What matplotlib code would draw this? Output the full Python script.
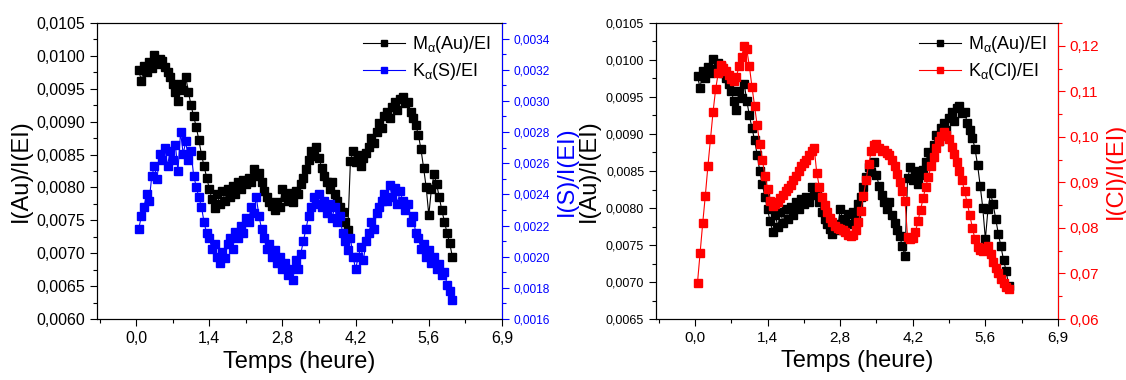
import numpy as np
import matplotlib
matplotlib.use("Agg")
import matplotlib.pyplot as plt
import matplotlib.ticker as ticker

plt.rcParams['font.family'] = ['Liberation Sans', 'DejaVu Sans']
plt.rcParams['mathtext.fontset'] = 'custom'
plt.rcParams['mathtext.rm'] = 'Liberation Sans'
plt.rcParams['mathtext.it'] = 'Liberation Sans'

# temps (heure)
temps = [0.05, 0.10, 0.15, 0.20, 0.25, 0.30, 0.35, 0.40, 0.45, 0.50,
         0.55, 0.60, 0.65, 0.70, 0.75, 0.80, 0.85, 0.90, 0.95, 1.00,
         1.05, 1.10, 1.15, 1.20, 1.25, 1.30, 1.35, 1.40, 1.45, 1.50,
         1.55, 1.60, 1.65, 1.70, 1.75, 1.80, 1.85, 1.90, 1.95, 2.00,
         2.05, 2.10, 2.15, 2.20, 2.25, 2.30, 2.35, 2.40, 2.45, 2.50,
         2.55, 2.60, 2.65, 2.70, 2.75, 2.80, 2.85, 2.90, 2.95, 3.00,
         3.05, 3.10, 3.15, 3.20, 3.25, 3.30, 3.35, 3.40, 3.45, 3.50,
         3.55, 3.60, 3.65, 3.70, 3.75, 3.80, 3.85, 3.90, 3.95, 4.00,
         4.05, 4.10, 4.15, 4.20, 4.25, 4.30, 4.35, 4.40, 4.45, 4.50,
         4.55, 4.60, 4.65, 4.70, 4.75, 4.80, 4.85, 4.90, 4.95, 5.00,
         5.05, 5.10, 5.15, 5.20, 5.25, 5.30, 5.35, 5.40, 5.45, 5.50,
         5.55, 5.60, 5.65, 5.70, 5.75, 5.80, 5.85, 5.90, 5.95, 6.00,
         6.05]

# M_alpha(Au)/EI
au = [0.00978, 0.00962, 0.00985, 0.00975, 0.00990, 0.00982, 0.01002, 0.00988, 0.00996, 0.00992,
      0.00983, 0.00975, 0.00968, 0.00958, 0.00945, 0.00932, 0.00958, 0.00948, 0.00968, 0.00945,
      0.00925, 0.00908, 0.00892, 0.00872, 0.00850, 0.00832, 0.00815, 0.00798, 0.00782, 0.00768,
      0.00790, 0.00775, 0.00795, 0.00780, 0.00798, 0.00785, 0.00802, 0.00790, 0.00808, 0.00798,
      0.00812, 0.00805, 0.00815, 0.00808, 0.00828, 0.00818, 0.00822, 0.00808, 0.00795, 0.00785,
      0.00778, 0.00772, 0.00765, 0.00778, 0.00770, 0.00798, 0.00785, 0.00780, 0.00792, 0.00778,
      0.00795, 0.00790, 0.00805, 0.00815, 0.00828, 0.00842, 0.00855, 0.00848, 0.00862, 0.00845,
      0.00830, 0.00818, 0.00808, 0.00798, 0.00808, 0.00790, 0.00780, 0.00770, 0.00762, 0.00748,
      0.00735, 0.00840, 0.00855, 0.00838, 0.00850, 0.00832, 0.00845, 0.00852, 0.00862, 0.00875,
      0.00868, 0.00885, 0.00898, 0.00890, 0.00908, 0.00915, 0.00905, 0.00922, 0.00930, 0.00918,
      0.00935, 0.00938, 0.00928, 0.00930, 0.00915, 0.00905, 0.00895, 0.00880, 0.00858, 0.00830,
      0.00800, 0.00758, 0.00798, 0.00820, 0.00805, 0.00785, 0.00765, 0.00748, 0.00730, 0.00715,
      0.00695]

# K_alpha(S)/EI
s = [0.00218, 0.00226, 0.00232, 0.00240, 0.00236, 0.00252, 0.00258, 0.00250, 0.00266, 0.00262,
     0.00270, 0.00258, 0.00268, 0.00262, 0.00272, 0.00255, 0.00280, 0.00266, 0.00274, 0.00262,
     0.00268, 0.00252, 0.00245, 0.00238, 0.00232, 0.00222, 0.00215, 0.00212, 0.00205, 0.00208,
     0.00200, 0.00196, 0.00203, 0.00199, 0.00208, 0.00212, 0.00205, 0.00216, 0.00212, 0.00220,
     0.00215, 0.00225, 0.00222, 0.00232, 0.00228, 0.00238, 0.00226, 0.00218, 0.00212, 0.00205,
     0.00208, 0.00200, 0.00204, 0.00196, 0.00200, 0.00192, 0.00196, 0.00188, 0.00192, 0.00185,
     0.00198, 0.00192, 0.00202, 0.00210, 0.00218, 0.00226, 0.00232, 0.00238, 0.00234, 0.00240,
     0.00232, 0.00236, 0.00228, 0.00234, 0.00225, 0.00232, 0.00222, 0.00226, 0.00215, 0.00210,
     0.00204, 0.00212, 0.00200, 0.00192, 0.00200, 0.00206, 0.00198, 0.00210, 0.00215, 0.00222,
     0.00218, 0.00228, 0.00232, 0.00236, 0.00240, 0.00236, 0.00246, 0.00238, 0.00244, 0.00234,
     0.00242, 0.00236, 0.00230, 0.00234, 0.00222, 0.00226, 0.00215, 0.00212, 0.00205, 0.00208,
     0.00200, 0.00204, 0.00196, 0.00200, 0.00192, 0.00195, 0.00188, 0.00190, 0.00182, 0.00178,
     0.00172]

# K_alpha(Cl)/EI
cl = [0.0680, 0.0745, 0.0810, 0.0870, 0.0935, 0.0995, 0.1055, 0.1105, 0.1140, 0.1158,
      0.1152, 0.1145, 0.1135, 0.1128, 0.1122, 0.1132, 0.1155, 0.1175, 0.1200, 0.1192,
      0.1155, 0.1110, 0.1068, 0.1025, 0.0985, 0.0950, 0.0915, 0.0885, 0.0860, 0.0848,
      0.0852, 0.0858, 0.0865, 0.0872, 0.0880, 0.0888, 0.0895, 0.0905, 0.0915, 0.0925,
      0.0935, 0.0942, 0.0950, 0.0960, 0.0968, 0.0975, 0.0920, 0.0890, 0.0868, 0.0850,
      0.0835, 0.0822, 0.0812, 0.0805, 0.0800, 0.0798, 0.0795, 0.0790, 0.0785, 0.0782,
      0.0785, 0.0795, 0.0812, 0.0838, 0.0870, 0.0905, 0.0940, 0.0968, 0.0982, 0.0985,
      0.0975, 0.0968, 0.0972, 0.0965, 0.0960, 0.0950, 0.0935, 0.0918, 0.0900, 0.0880,
      0.0860, 0.0780, 0.0775, 0.0778, 0.0790, 0.0815, 0.0840, 0.0865, 0.0890, 0.0912,
      0.0935, 0.0955, 0.0975, 0.0990, 0.1002, 0.1010, 0.1005, 0.0995, 0.0978, 0.0962,
      0.0945, 0.0925, 0.0905, 0.0880, 0.0855, 0.0828, 0.0800, 0.0775, 0.0758, 0.0752,
      0.0750, 0.0755, 0.0760, 0.0742, 0.0725, 0.0712, 0.0700, 0.0688, 0.0678, 0.0670,
      0.0665]

xticks = [0.0, 1.4, 2.8, 4.2, 5.6, 7.0]
xticklabels = ['0,0', '1,4', '2,8', '4,2', '5,6', '6,9']


def comma_fmt(nd):
    return ticker.FuncFormatter(lambda v, pos: ('%.*f' % (nd, v)).replace('.', ','))


def style_axis(ax, color, size):
    ax.tick_params(which='major', direction='out', length=5, width=0.8,
                   colors=color, labelsize=size)
    ax.tick_params(which='minor', direction='out', length=3, width=0.8, colors=color)


fig = plt.figure(figsize=(11.26, 3.80), dpi=100)
ax1 = fig.add_axes([0.0861, 0.1605, 0.3597, 0.779])
ax3 = fig.add_axes([0.5826, 0.1605, 0.357, 0.779])

panels = [
    (ax1, s, 'blue', r'K$_{\alpha}$(S)/EI', 'I(S)/I(EI)', (0.0060, 0.0105), (0.0016, 0.0035),
     0.0002, 4, 11.5, 8.6, 11.5, -0.16, 1.133, 5.5),
    (ax3, cl, 'red', r'K$_{\alpha}$(Cl)/EI', 'I(Cl)/I(EI)', (0.0065, 0.0105), (0.06, 0.125),
     0.01, 2, 9, 11, 11, -0.139, 1.117, 6.2),
]

for ax, y2, col, lab2, ylab2, ylim1, ylim2, step2, nd2, lsz, rsz, xsz, lx, rx, ms2 in panels:
    l1, = ax.plot(temps, au, '-s', color='black', lw=0.8, ms=5.5, label=r'M$_{\alpha}$(Au)/EI')
    ax.set_xlim(-0.75, 7.0)
    ax.set_ylim(*ylim1)
    ax.set_xticks(xticks)
    ax.set_xticklabels(xticklabels)
    ax.xaxis.set_minor_locator(ticker.AutoMinorLocator(2))
    ax.yaxis.set_major_locator(ticker.MultipleLocator(0.0005))
    ax.yaxis.set_minor_locator(ticker.AutoMinorLocator(2))
    ax.yaxis.set_major_formatter(comma_fmt(4))
    style_axis(ax, 'black', lsz)
    ax.tick_params(axis='x', labelsize=xsz)
    ax.set_xlabel('Temps (heure)', fontsize=17, labelpad=4)
    ax.set_ylabel('I(Au)/I(EI)', fontsize=17)
    ax.yaxis.set_label_coords(lx, 0.5)

    tw = ax.twinx()
    l2, = tw.plot(temps, y2, '-s', color=col, lw=0.8, ms=ms2, label=lab2)
    tw.set_ylim(*ylim2)
    tw.yaxis.set_major_locator(ticker.MultipleLocator(step2))
    tw.yaxis.set_minor_locator(ticker.AutoMinorLocator(2))
    tw.yaxis.set_major_formatter(comma_fmt(nd2))
    style_axis(tw, col, rsz)
    tw.spines['right'].set_color(col)
    tw.set_ylabel(ylab2, fontsize=17, color=col)
    tw.yaxis.set_label_coords(rx, 0.5)
    tw.legend(handles=[l1, l2], loc='upper right', frameon=False, fontsize=13,
              handlelength=2.3, borderaxespad=0.2, labelspacing=0.35, handletextpad=0.4,
              markerscale=0.8)

fig.savefig('out.png', dpi=100)
